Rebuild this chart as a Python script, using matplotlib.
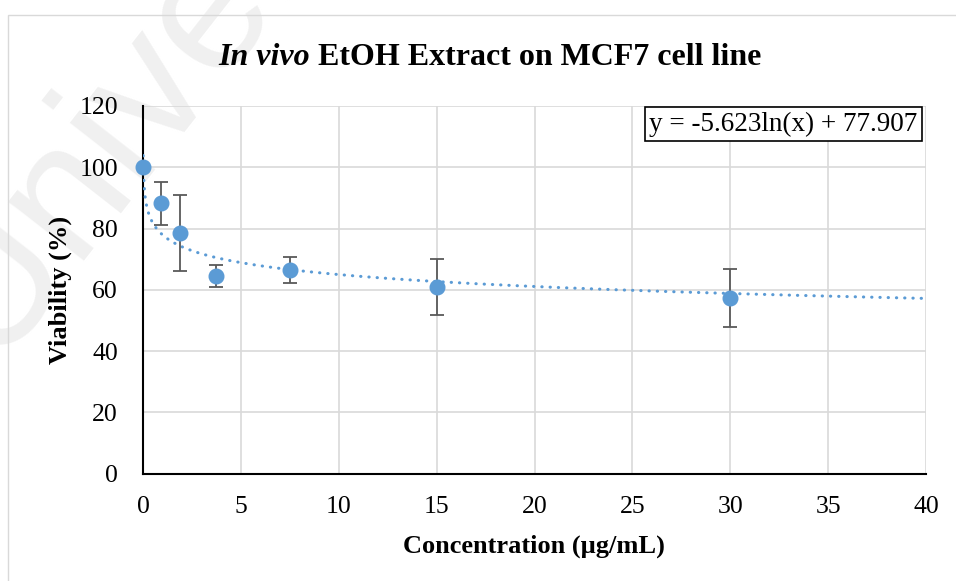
import numpy as np
import matplotlib.pyplot as plt
from matplotlib.patches import Rectangle

# data
conc = [0, 0.9375, 1.875, 3.75, 7.5, 15, 30]
viability = [100, 88.3, 78.5, 64.5, 66.4, 60.8, 57.4]
err = [0, 7.0, 12.4, 3.5, 4.2, 9.2, 9.4]

slope = -5.623
intercept = 77.907

xticks = [0, 5, 10, 15, 20, 25, 30, 35, 40]
yticks = [0, 20, 40, 60, 80, 100, 120]

blue = '#5B9BD5'
plt.rcParams['font.family'] = ['Liberation Serif', 'DejaVu Serif']

fig = plt.figure(figsize=(9.56, 5.81), dpi=100)
W, H = 956, 581

# faint watermark behind everything
fig.text(-8 / W, 1 - 362 / H, 'Universiti', fontsize=130, color='#f0f0f0',
         rotation=52, rotation_mode='anchor', ha='left', va='baseline',
         family='Liberation Sans', zorder=-5)

# chart area border
fig.patches.append(Rectangle((8 / W, -0.1), 1.2, 1 - 15 / H + 0.1,
                             transform=fig.transFigure, fill=False,
                             edgecolor='#d9d9d9', linewidth=1.0, zorder=-4))

ax = fig.add_axes([143 / W, 1 - 473.5 / H, (926 - 143) / W, (473.5 - 106) / H])
ax.patch.set_alpha(0)

# trendline
xt = np.linspace(0.01, 40, 4000)
ax.plot(xt, slope * np.log(xt) + intercept, color=blue, linewidth=2.2,
        linestyle=(0, (0.1, 2.6)), dash_capstyle='round', zorder=3)

ax.errorbar(conc[1:], viability[1:], yerr=err[1:], fmt='none', ecolor='#595959',
            elinewidth=1.3, capsize=4.8, capthick=1.3, zorder=4)
ax.plot(conc, viability, 'o', color=blue, markersize=10.5, zorder=5, clip_on=False)

ax.set_xlim(0, 40)
ax.set_ylim(0, 120)
ax.set_xticks(xticks)
ax.set_yticks(yticks)
ax.grid(True, color='#d9d9d9', linewidth=1.2)
ax.set_axisbelow(True)
for s in ['top', 'right']:
    ax.spines[s].set_visible(False)
for s in ['left', 'bottom']:
    ax.spines[s].set_linewidth(1.5)
ax.tick_params(length=0, labelsize=18.5, pad=16)
ax.tick_params(axis='y', pad=18)

# axis titles
fig.text(534 / W, 1 - 546 / H, 'Concentration (µg/mL)', fontsize=19,
         fontweight='bold', ha='center', va='center')
fig.text(60 / W, 1 - 290 / H, 'Viability (%)', fontsize=19, fontweight='bold',
         ha='center', va='center', rotation=90)

# title: italic-bold part followed by bold part, centred as one line
r = fig.canvas.get_renderer()
t1 = fig.text(0, 0, 'In vivo ', fontsize=23, fontweight='bold', fontstyle='italic')
t2 = fig.text(0, 0, 'EtOH Extract on MCF7 cell line', fontsize=23, fontweight='bold')
w1 = t1.get_window_extent(r).width
w2 = t2.get_window_extent(r).width
x0 = 490 - (w1 + w2) / 2
t1.set_position((x0 / W, 1 - 65 / H))
t2.set_position(((x0 + w1) / W, 1 - 65 / H))

ax.text(783.5 / W, 1 - 124 / H, 'y = -5.623ln(x) + 77.907', transform=fig.transFigure,
        fontsize=19.5, ha='center', va='center',
        bbox=dict(boxstyle='square,pad=0.15', facecolor='white', edgecolor='black', linewidth=1.2))

fig.savefig('out.png', dpi=100)
